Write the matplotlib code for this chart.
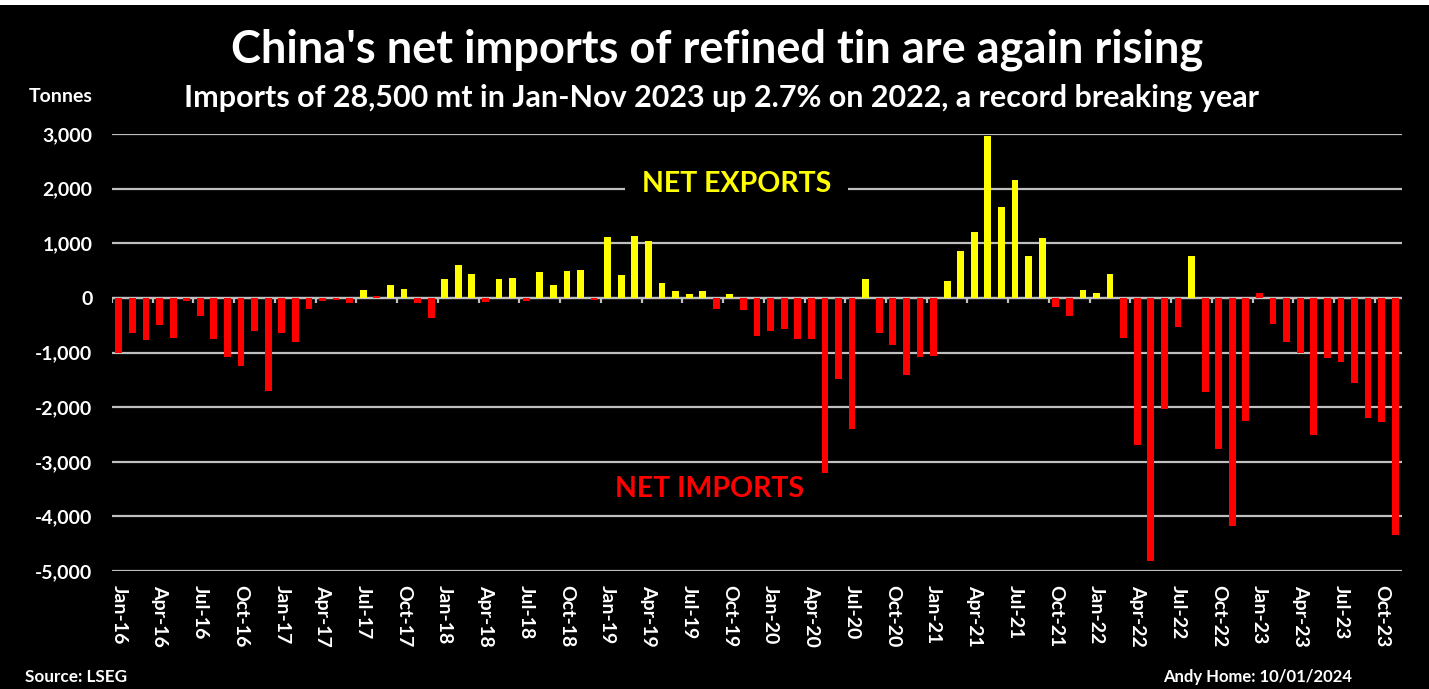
import matplotlib
matplotlib.use("Agg")
import matplotlib.pyplot as plt
from matplotlib.patches import Rectangle
from matplotlib.ticker import FuncFormatter
import pandas as pd

# monthly net trade in refined tin, tonnes (positive = net exports)
months = list(pd.date_range("2016-01-01", periods=95, freq="MS").strftime("%b-%y"))
net_2016 = [-1000, -650, -780, -490, -740, -60, -340, -760, -1090, -1240, -600, -1700]
net_2017 = [-650, -800, -210, -60, -40, -100, 145, 30, 235, 170, -100, -370]
net_2018 = [345, 610, 430, -80, 345, 370, -55, 480, 235, 500, 515, -40]
net_2019 = [1115, 420, 1130, 1045, 280, 125, 65, 125, -200, 65, -215, -705]
net_2020 = [-615, -570, -745, -745, -3200, -1485, -2405, 345, -650, -855, -1420, -1090]
net_2021 = [-1070, 300, 850, 1215, 2955, 1665, 2165, 765, 1095, -175, -325, 150]
net_2022 = [90, 435, -740, -2690, -4820, -2035, -540, 760, -1730, -2760, -4180, -2250]
net_2023 = [85, -480, -800, -1010, -2510, -1095, -1180, -1560, -2205, -2270, -4335]
net_trade = net_2016 + net_2017 + net_2018 + net_2019 + net_2020 + net_2021 + net_2022 + net_2023
red_positive = ["Aug-17", "Jan-23"]  # tiny positive bars drawn red in the original

yticks = [3000, 2000, 1000, 0, -1000, -2000, -3000, -4000, -5000]

RED = "#FF0000"
YELLOW = "#FFFF00"
GRID = "#BFBFBF"
FONT = "Lato"

fig = plt.figure(figsize=(14.29, 6.89), dpi=100, facecolor="white")
fig.patches.append(Rectangle((0, 0), 1, 1 - 5 / 689, transform=fig.transFigure,
                             facecolor="black", edgecolor="none", zorder=-10))
ax = fig.add_axes([112 / 1429, 118 / 689, (1402 - 112) / 1429, (571 - 134) / 689])
ax.set_facecolor("black")

x = list(range(len(net_trade)))
colors = [YELLOW if (v > 0 and m not in red_positive) else RED for m, v in zip(months, net_trade)]
ax.bar(x, net_trade, width=0.5, color=colors, zorder=3)

ax.set_xlim(-0.5, len(net_trade) - 0.5)
ax.set_ylim(-5000, 3000)
ax.set_yticks(yticks)
ax.yaxis.set_major_formatter(FuncFormatter(lambda v, p: f"{int(v):,}"))
ax.grid(axis="y", color=GRID, linewidth=1.6, zorder=1)
ax.axhline(0, color=GRID, linewidth=1.6, zorder=2)
# quarterly tick marks hanging below the zero line
qb = [i - 0.5 for i in range(0, len(net_trade) + 1, 3)]
ax.vlines(qb, -100, 0, color=GRID, linewidth=1.6, zorder=2)

ax.set_xticks(x[::3])
ax.set_xticklabels(months[::3], rotation=270, fontsize=14, fontweight="bold",
                   color="white", family=FONT)
for lbl in ax.get_yticklabels():
    lbl.set_fontsize(14)
    lbl.set_fontweight("bold")
    lbl.set_color("white")
    lbl.set_family(FONT)
ax.tick_params(axis="x", length=0, pad=10)
ax.tick_params(axis="y", length=0, pad=14)
for s in ax.spines.values():
    s.set_visible(False)

ax.text(45.5, 2080, "NET EXPORTS", color=YELLOW, fontsize=20.5, fontweight="bold",
        family=FONT, ha="center", va="center", zorder=4,
        bbox=dict(facecolor="black", edgecolor="none", pad=12))
ax.text(43.5, -3500, "NET IMPORTS", color=RED, fontsize=20.5, fontweight="bold",
        family=FONT, ha="center", va="center", zorder=4)

fig.text(717 / 1429, 1 - 50 / 689, "China's net imports of refined tin are again rising",
         color="white", fontsize=32.5, fontweight="bold", family=FONT, ha="center", va="center")
fig.text(721 / 1429, 1 - 98 / 689,
         "Imports of 28,500 mt in Jan-Nov 2023 up 2.7% on 2022, a record breaking year",
         color="white", fontsize=22, fontweight="bold", family=FONT, ha="center", va="center")
fig.text(93 / 1429, 1 - 96 / 689, "Tonnes", color="white", fontsize=14, fontweight="bold",
         family=FONT, ha="right", va="center")
fig.text(25 / 1429, 1 - 677 / 689, "Source: LSEG", color="white", fontsize=12.3,
         fontweight="bold", family=FONT, ha="left", va="center")
fig.text(1352 / 1429, 1 - 677 / 689, "Andy Home: 10/01/2024", color="white", fontsize=12,
         fontweight="bold", family=FONT, ha="right", va="center")

fig.savefig("out.png", dpi=100, facecolor=fig.get_facecolor())
